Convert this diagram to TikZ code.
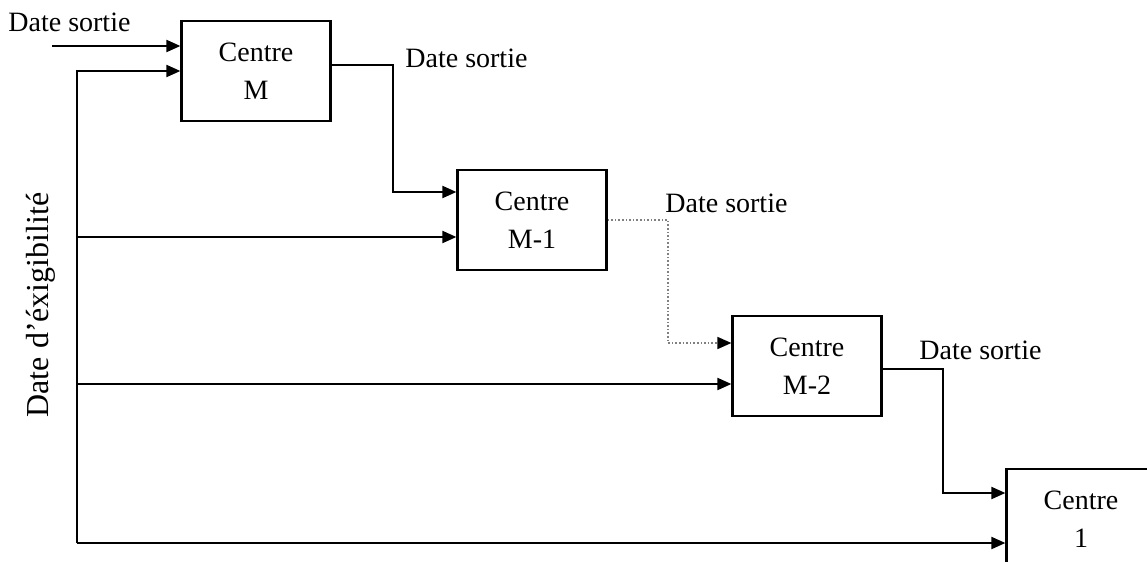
\documentclass[tikz,border=0pt]{standalone}
\usepackage{fontspec}
\setmainfont{Liberation Serif}
\usepackage{tikz}
\usetikzlibrary{positioning, arrows.meta}

\begin{document}
\begin{tikzpicture}[x=0.5pt, y=0.5pt,
  font=\fontsize{14}{19}\selectfont,
  centre/.style={draw, rectangle, line width=1.1pt, align=center,
    minimum width=74.5pt, minimum height=50pt},
  flow/.style={line width=1pt, -{Triangle[length=7pt, width=6pt]}},
  dotflow/.style={gray, line width=0.8pt, densely dotted, -{Triangle[length=7pt, width=6pt, black]}}]
  \useasboundingbox (0,0) rectangle (1147,-562);

  % Centres (staircase)
  \node (cM) [centre] at (256,-71) {Centre\\M};
  \node (cM1) [centre] at (532,-220) {Centre\\M-1};
  \node (cM2) [centre] at (807,-366) {Centre\\M-2};
  \node (c1) [centre] at (1081,-519) {Centre\\1};

  % Date sortie (inputs and outputs)
  \node (dsIn) [anchor=west, inner sep=0pt] at (8,-22) {Date sortie};
  \coordinate (inM) at (52,-46);
  \draw[flow] (inM) -- (inM -| cM.west);

  \node (dsM) [anchor=west, inner sep=0pt] at (405,-58) {Date sortie};
  \coordinate (bendA) at (393,-65);
  \coordinate (bendB) at (393,-192);
  \draw[flow] (cM.east |- bendA) -- (bendA) -- (bendB) -- (cM1.west |- bendB);

  \node (dsM1) [anchor=west, inner sep=0pt] at (665,-203) {Date sortie};
  \coordinate (bendC) at (668,-220);
  \coordinate (bendD) at (668,-343);
  \draw[dotflow] (cM1.east |- bendC) -- (bendC) -- (bendD) -- (cM2.west |- bendD);

  \node (dsM2) [anchor=west, inner sep=0pt] at (919,-350) {Date sortie};
  \coordinate (bendE) at (943,-369);
  \coordinate (bendF) at (943,-493);
  \draw[flow] (cM2.east |- bendE) -- (bendE) -- (bendF) -- (c1.west |- bendF);

  % Date d'exigibilite (left bus)
  \node (dex) [rotate=90, font=\fontsize{16}{19}\selectfont] at (41,-305) {Date d’éxigibilité};
  \coordinate (busTop) at (77,-71);
  \coordinate (busM1) at (77,-237);
  \coordinate (busM2) at (77,-384);
  \coordinate (busBot) at (77,-543);
  \draw[flow] (busBot) -- (busTop) -- (busTop -| cM.west);
  \draw[flow] (busM1) -- (busM1 -| cM1.west);
  \draw[flow] (busM2) -- (busM2 -| cM2.west);
  \draw[flow] (busBot) -- (busBot -| c1.west);
\end{tikzpicture}
\end{document}
